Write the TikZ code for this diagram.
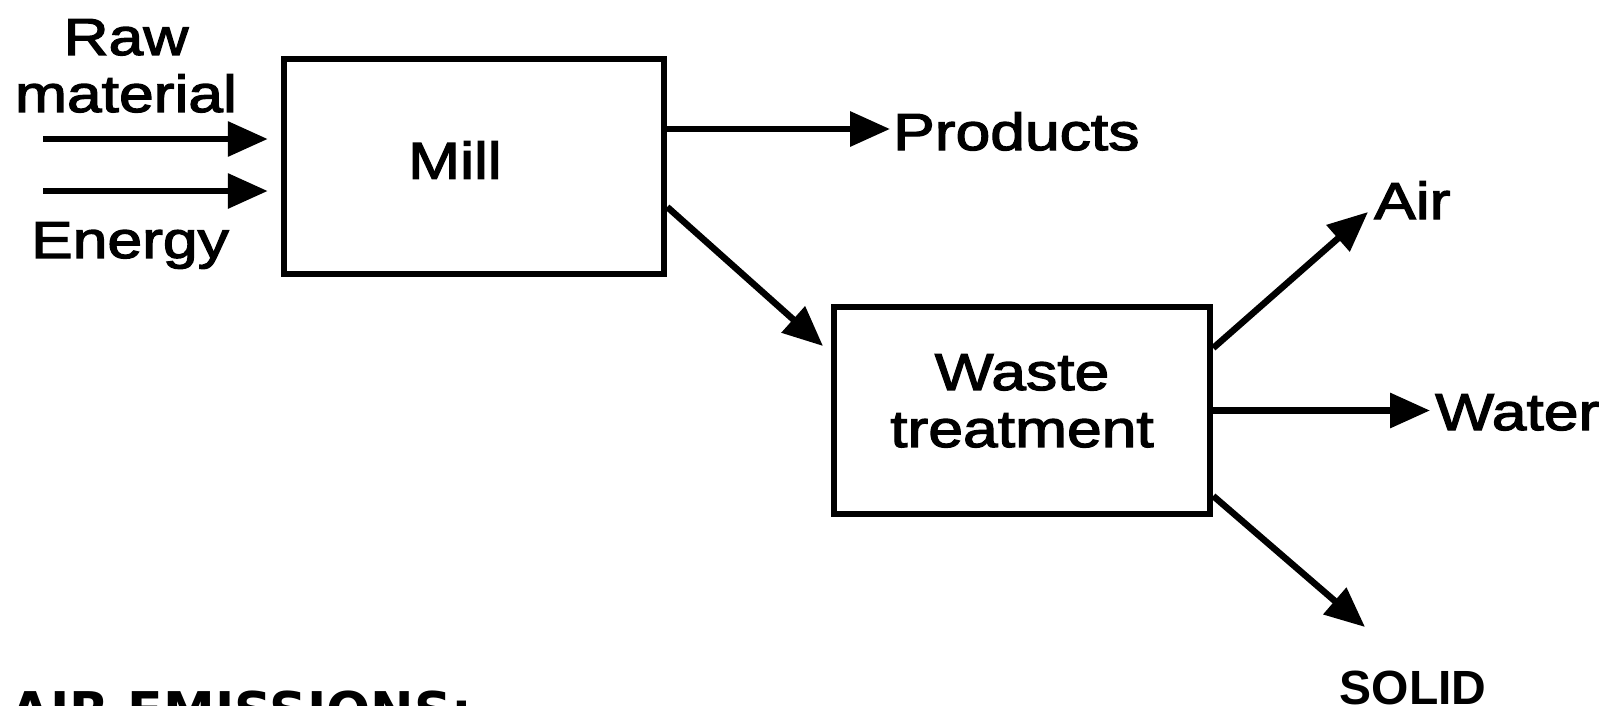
\documentclass[tikz,border=0pt]{standalone}
\usepackage{fontspec}
\setmainfont{Liberation Sans}
\newfontfamily\labfont[FakeStretch=1.2,FakeBold=2.5]{Liberation Sans}
\newfontfamily\solidfont{Liberation Sans}
\newfontfamily\emfont{DejaVu Sans}
\usetikzlibrary{arrows.meta}
\tikzset{
  box/.style={draw, line width=6.5pt, rectangle, inner sep=0pt},
  flow/.style={line width=6.5pt, -{Triangle[length=40pt,width=34pt]}},
  lab/.style={inner sep=0pt, font=\labfont\fontsize{52}{57}\selectfont, align=center},
}
\begin{document}
\begin{tikzpicture}[x=1pt,y=-1pt]
\useasboundingbox (0,0) rectangle (1619,705);
% boxes
\node[box, minimum width=380pt, minimum height=215pt] (mill) at (474,166.5) {};
\node[box, minimum width=376pt, minimum height=207pt] (waste) at (1022,410.5) {};
% labels
\node[lab, anchor=north] (rawlab) at (126,19) {Raw\\material};
\node[lab, anchor=north] (energylab) at (130,222) {Energy};
\node[lab] (milllab) at (455,160) {Mill};
\node[lab, anchor=north] (wastelab) at (1022,354) {Waste\\treatment};
\node[lab, anchor=base west] (prodlab) at (893,150) {Products};
\node[lab, anchor=base west] (airlab) at (1374,219) {Air};
\node[lab, anchor=base west] (waterlab) at (1435,430) {Water};
\node[inner sep=0pt, anchor=north, font=\solidfont\bfseries\fontsize{48}{52}\selectfont] (solidlab) at (1413,671) {SOLID};
\node[inner sep=0pt, anchor=north west, font=\emfont\bfseries\fontsize{52}{56}\selectfont] (emlab) at (10,691) {AIR EMISSIONS:};
% coordinates
\coordinate (rawin) at (43,139);
\coordinate (energyin) at (43,191);
\coordinate (prodtip) at (890,129);
\coordinate (mwtip) at (823,346);
\coordinate (airtip) at (1368,212);
\coordinate (watertip) at (1430,410.5);
\coordinate (solidtip) at (1365,627);
% connectors
\draw[flow, shorten >=13pt] (rawin) -- (rawin -| mill.west);
\draw[flow, shorten >=13pt] (energyin) -- (energyin -| mill.west);
\draw[flow] (mill.east |- prodtip) -- (prodtip);
\draw[flow] ([yshift=-40.5pt]mill.east) -- (mwtip);
\draw[flow] ([yshift=62.5pt]waste.east) -- (airtip);
\draw[flow] (waste.east) -- (watertip);
\draw[flow] ([yshift=-85.5pt]waste.east) -- (solidtip);
\end{tikzpicture}
\end{document}
